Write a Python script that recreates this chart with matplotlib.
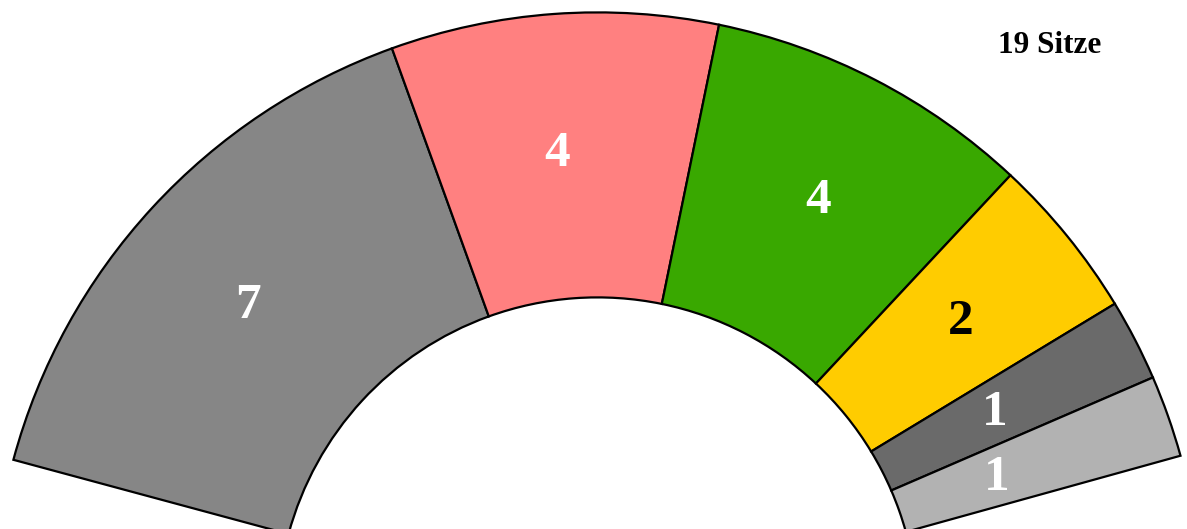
import numpy as np
import matplotlib
matplotlib.use("Agg")
import matplotlib.pyplot as plt
from matplotlib.patches import Wedge

# Sitzverteilung
seats = [7, 4, 4, 2, 1, 1]
colors = ['#868686', '#ff8080', '#39a800', '#ffcc00', '#6a6a6a', '#b2b2b2']
label_colors = ['white', 'white', 'white', 'black', 'white', 'white']
total_label = '19 Sitze'

# layout (pixels, y up)
cx, cy = 597.5, -88.4
r_out, r_in = 605.0, 320.0
start_ang, end_ang = 164.9, 15.5
label_ang = [137.8, 94.9, 62.4, 39.6, 27.8, 20.0]
label_r = [472, 471, 476, 472, 449, 425]

fig = plt.figure(figsize=(11.87, 5.29), dpi=100)
ax = fig.add_axes([0, 0, 1, 1])
ax.set_xlim(0, 1187)
ax.set_ylim(0, 529)
ax.set_aspect('equal')
ax.axis('off')

per_seat = (start_ang - end_ang) / sum(seats)
a = start_ang
for n, col, lc, la, lr in zip(seats, colors, label_colors, label_ang, label_r):
    a2 = a - n * per_seat
    w = Wedge((cx, cy), r_out, a2, a, width=r_out - r_in,
              facecolor=col, edgecolor='black', linewidth=1.6)
    ax.add_patch(w)
    t = np.radians(la)
    ax.text(cx + lr * np.cos(t), cy + lr * np.sin(t), str(n),
            ha='center', va='center_baseline', color=lc,
            fontsize=37, fontweight='bold', family='Liberation Serif')
    a = a2

ax.text(1050, 529 - 42, total_label, ha='center', va='center_baseline',
        fontsize=22.5, fontweight='bold', family='Liberation Serif')

fig.savefig('out.png', dpi=100)
